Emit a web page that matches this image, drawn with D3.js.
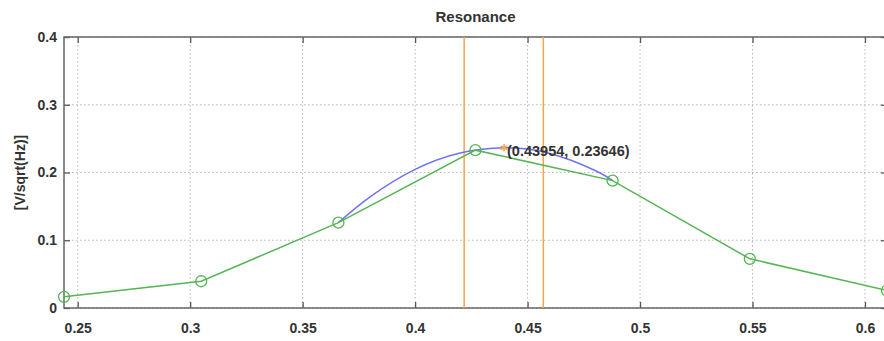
<!DOCTYPE html>
<html>
<head>
<meta charset="utf-8">
<script src="https://cdn.jsdelivr.net/npm/d3@7"></script>
<style>
  body { margin: 0; background: #fff; }
  svg { display: block; font-family: "Liberation Sans", Arial, sans-serif; }
</style>
</head>
<body>
<div id="chart"></div>
<script>
// measured points (green)
const freq = [0.2439, 0.3049, 0.3659, 0.4268, 0.4878, 0.5488, 0.6098];
const amp = [0.0165, 0.0395, 0.126, 0.233, 0.188, 0.0726, 0.0258];
// fitted curve (blue)
const fitX = [0.3659, 0.38, 0.40, 0.42, 0.4395, 0.46, 0.48, 0.4878];
const fitY = [0.126, 0.164, 0.2045, 0.2287, 0.2365, 0.228, 0.203, 0.188];
// peak marker and band limits
const peak = [0.43954, 0.23646];
const band = [0.4218, 0.4570];
const xTicks = [0.25, 0.3, 0.35, 0.4, 0.45, 0.5, 0.55, 0.6];
const yTicks = [0, 0.1, 0.2, 0.3, 0.4];

const W = 884, H = 341;
const margin = {top: 37, right: -3, bottom: 33, left: 64};
const width = W - margin.left - margin.right;
const height = H - margin.top - margin.bottom;

const svg = d3.select('#chart').append('svg').attr('width', W).attr('height', H);
const g = svg.append('g').attr('transform', `translate(${margin.left},${margin.top})`);

const x = d3.scaleLinear().domain([freq[0], freq[freq.length - 1]]).range([0, width]);
const y = d3.scaleLinear().domain([0, 0.4]).range([height, 0]);

// grid
g.selectAll('.gx').data(xTicks).enter().append('line')
  .attr('x1', d => x(d)).attr('x2', d => x(d)).attr('y1', 0).attr('y2', height)
  .attr('stroke', '#b8b8b8').attr('stroke-dasharray', '1.5,2.5');
g.selectAll('.gy').data(yTicks).enter().append('line')
  .attr('x1', 0).attr('x2', width).attr('y1', d => y(d)).attr('y2', d => y(d))
  .attr('stroke', '#b8b8b8').attr('stroke-dasharray', '1.5,2.5');

// axes
const fmt = d => d === 0 ? '0' : d3.format('~g')(d);
const axStyle = sel => {
  sel.select('.domain').remove();
  sel.selectAll('.tick line').attr('stroke', '#555').attr('stroke-width', 1.3);
  sel.selectAll('.tick text').attr('fill', '#333').attr('font-size', '14px').attr('font-weight', 'bold');
};
g.append('g').attr('transform', `translate(0,${height})`)
  .call(d3.axisBottom(x).tickValues(xTicks).tickFormat(fmt).tickSizeInner(-6).tickSizeOuter(0).tickPadding(15))
  .call(axStyle);
g.append('g')
  .call(d3.axisTop(x).tickValues(xTicks).tickFormat('').tickSizeInner(-6).tickSizeOuter(0))
  .call(axStyle);
g.append('g')
  .call(d3.axisLeft(y).tickValues(yTicks).tickFormat(fmt).tickSizeInner(-6).tickSizeOuter(0).tickPadding(7))
  .call(axStyle);
g.append('g').attr('transform', `translate(${width},0)`)
  .call(d3.axisRight(y).tickValues(yTicks).tickFormat('').tickSizeInner(-6).tickSizeOuter(0))
  .call(axStyle);

// box
g.append('rect').attr('width', width).attr('height', height)
  .attr('fill', 'none').attr('stroke', '#666').attr('stroke-width', 1.5);

// band lines
g.selectAll('.band').data(band).enter().append('line')
  .attr('x1', d => x(d)).attr('x2', d => x(d)).attr('y1', 0).attr('y2', height)
  .attr('stroke', '#f5a54a').attr('stroke-width', 1.5);

// fitted curve
const fit = fitX.map((d, i) => [d, fitY[i]]);
g.append('path').datum(fit)
  .attr('d', d3.line().x(d => x(d[0])).y(d => y(d[1])).curve(d3.curveNatural))
  .attr('fill', 'none').attr('stroke', '#7070f5').attr('stroke-width', 1.5);

// measured line
const pts = freq.map((d, i) => [d, amp[i]]);
g.append('path').datum(pts)
  .attr('d', d3.line().x(d => x(d[0])).y(d => y(d[1])))
  .attr('fill', 'none').attr('stroke', '#55b555').attr('stroke-width', 1.5);
g.selectAll('.pt').data(pts).enter().append('circle')
  .attr('cx', d => x(d[0])).attr('cy', d => y(d[1])).attr('r', 5.5)
  .attr('fill', 'none').attr('stroke', '#55b555').attr('stroke-width', 1.3);

// peak marker
g.append('path')
  .attr('d', d3.symbol(d3.symbolAsterisk, 40)())
  .attr('transform', `translate(${x(peak[0])},${y(peak[1])})`)
  .attr('fill', 'none').attr('stroke', '#f5a54a').attr('stroke-width', 1.5);
g.append('text')
  .attr('x', x(peak[0]) + 3).attr('y', y(peak[1]) + 8)
  .attr('font-size', '14.5px').attr('font-weight', 'bold').attr('fill', '#333')
  .text(`(${peak[0]}, ${peak[1]})`);

// title and label
svg.append('text').attr('x', margin.left + width / 2).attr('y', 22)
  .attr('text-anchor', 'middle').attr('font-size', '15px').attr('font-weight', 'bold').attr('fill', '#333').text('Resonance');
svg.append('text').attr('transform', `translate(25,${margin.top + height / 2}) rotate(-90)`)
  .attr('text-anchor', 'middle').attr('font-size', '14px').attr('font-weight', 'bold').attr('fill', '#333').text('[V/sqrt(Hz)]');
</script>
</body>
</html>
